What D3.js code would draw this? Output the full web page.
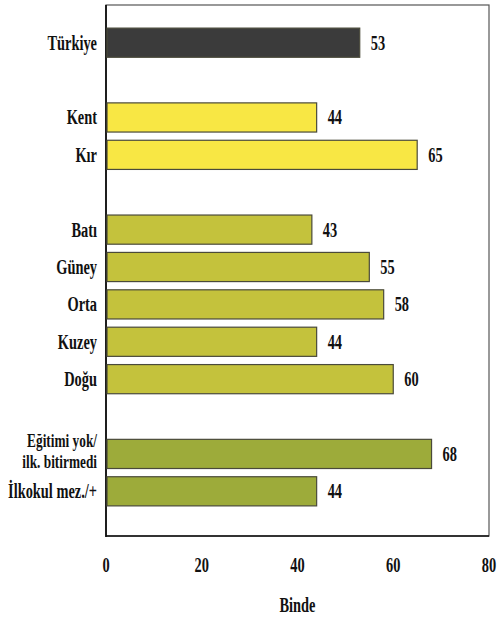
<!DOCTYPE html>
<html><head><meta charset="utf-8">
<script src="https://cdn.jsdelivr.net/npm/d3@7"></script>
<style>
body{margin:0;background:#fff;}
</style></head>
<body>
<svg id="c" width="501" height="618"></svg>
<script>
const slots = ["Türkiye","g1","Kent","Kır","g2","Batı","Güney","Orta","Kuzey","Doğu","g3","Eğitimi yok/\nilk. bitirmedi","İlkokul mez./+"];
const categories = ["Türkiye","Kent","Kır","Batı","Güney","Orta","Kuzey","Doğu","Eğitimi yok/\nilk. bitirmedi","İlkokul mez./+"];
const values = [53,44,65,43,55,58,44,60,68,44];
const groups = ["total","residence","residence","region","region","region","region","region","education","education"];
const tickValues = [0,20,40,60,80];
const axisTitle = "Binde";
const colors = {total:"#3b3b3b",residence:"#f8e744",region:"#c4c23c",education:"#9dab3a"};
const FONT = "'Liberation Serif','Times New Roman',serif";

const svg = d3.select("#c");
const x = d3.scaleLinear().domain([0,80]).range([106,489]);
const y = d3.scaleBand().domain(slots).range([24,510]).paddingInner(0.22).paddingOuter(0.11);
const sx = 0.72;

// frame
svg.append("rect").attr("x",106).attr("y",5).attr("width",383).attr("height",531)
  .attr("fill","none").attr("stroke","#555").attr("stroke-width",1.2);
svg.append("line").attr("x1",106).attr("x2",106).attr("y1",5).attr("y2",537)
  .attr("stroke","#111").attr("stroke-width",1.8);
svg.append("line").attr("x1",106).attr("x2",489).attr("y1",536).attr("y2",536)
  .attr("stroke","#111").attr("stroke-width",1.4);

const data = categories.map((c,i)=>({c,v:values[i],g:groups[i]}));

svg.selectAll("rect.bar").data(data).join("rect").attr("class","bar")
  .attr("x",x(0)+1).attr("y",d=>y(d.c)).attr("width",d=>x(d.v)-x(0)-1)
  .attr("height",y.bandwidth()).attr("fill",d=>colors[d.g])
  .attr("stroke","#4a4a3a").attr("stroke-width",1.2);

function condText(sel, xx, yy, anchor, fs){
  return sel.append("text").attr("transform",`translate(${xx},${yy}) scale(${sx},1)`)
    .attr("text-anchor",anchor).attr("font-family",FONT).attr("font-weight","bold")
    .attr("fill","#111").attr("font-size",fs||20);
}

data.forEach(d=>{
  const lines = d.c.split("\n");
  const cy = y(d.c)+y.bandwidth()/2;
  if(lines.length===1){
    condText(svg,97,cy+7,"end").text(d.c);
  } else {
    lines.forEach((ln,i)=>{
      condText(svg,97,cy-7+i*21,"end",18.5).text(ln);
    });
  }
  condText(svg,x(d.v)+11,cy+7,"start").text(d.v);
});

const ax = svg.append("g").attr("transform","translate(0,536)")
  .call(d3.axisBottom(x).tickValues(tickValues).tickSize(0).tickPadding(0));
ax.select(".domain").remove();
ax.selectAll("text").remove();
tickValues.forEach(t=>{
  condText(svg,x(t),572,"middle").text(t);
});
condText(svg,(x(0)+x(80))/2,612,"middle").text(axisTitle);
</script>
</body></html>
